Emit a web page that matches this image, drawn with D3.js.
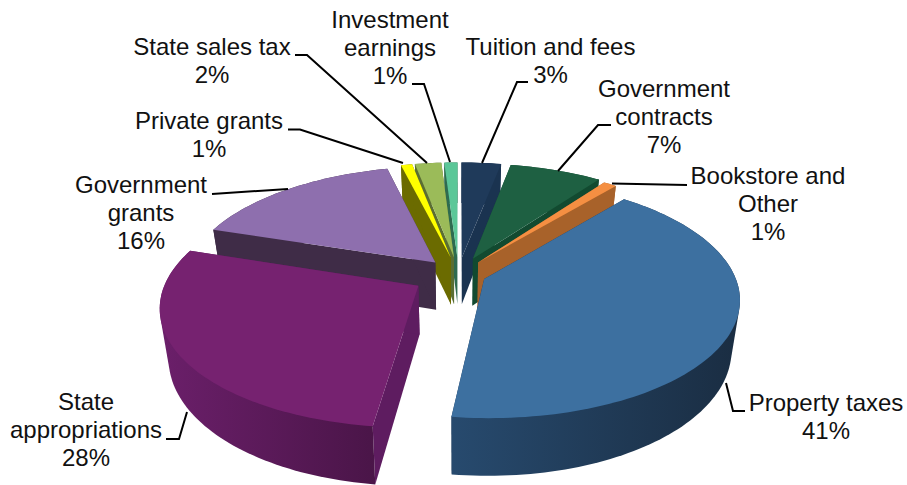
<!DOCTYPE html>
<html><head><meta charset="utf-8">
<script src="https://cdnjs.cloudflare.com/ajax/libs/d3/7.8.5/d3.min.js"></script>
<style>html,body{margin:0;padding:0;background:#fff}svg{display:block}text{font-family:"Liberation Sans",Arial,sans-serif;font-size:24px;fill:#111}</style>
</head><body><svg id="c" width="907" height="485"></svg>
<script>
const categories=["Tuition and fees","Government contracts","Bookstore and Other","Property taxes","State appropriations","Government grants","Private grants","State sales tax","Investment earnings"];
const values=[3,7,1,41,28,16.15,0.85,2,1];
const percentLabels=["3%","7%","1%","41%","28%","16%","1%","2%","1%"];
const explosion=[0.148,0.148,0.13,0.111,0.187,0.138,0.148,0.148,0.148];
const faceColors=["#1F3A5A","#1E6042","#F58F42","#3D70A0","#762270","#8E6FAE","#FFFF00","#9BBB59","#5BC798"];
const radialWallColors=["#1A3350","#124A30","#A8622A","#1C3350","#5E1C60","#3F2C47","#6B6B00","#5A6E33","#2E6B50"];
const outerWallFrom=["#1A3350","#124A30","#A8622A","#274A6E","#6B1F6A","#3F2C47","#6B6B00","#5A6E33","#2E6B50"];
const outerWallTo=["#1A3350","#124A30","#A8622A","#1A2D42","#4A1548","#3F2C47","#6B6B00","#5A6E33","#2E6B50"];
const paintOrder=[8,7,6,0,1,2,5,3,4];
const labelLines=[["Tuition and fees","3%"],["Government","contracts","7%"],["Bookstore and","Other","1%"],["Property taxes","41%"],["State","appropriations","28%"],["Government","grants","16%"],["Private grants","1%"],["State sales tax","2%"],["Investment","earnings","1%"]];
const labelCenters=[[550.5,61],[664,117],[768,204],[826,417],[86,430],[141,213],[209,135],[212,60.5],[390,48]];
const leaders=[[[482,163],[517,82],[528,82]],[[558,171],[598,125],[611,125]],[[612,183.5],[687,185]],[[726,383],[733,411],[745,411]],[[187,412],[179,439],[166,439]],[[288,189],[212,194]],[[403,163],[300,129.5],[288,129.5]],[[427,163],[307,55],[295,55]],[[450,162],[424,84],[412,84]]];

const W=907,H=485,cx=458.5,cy=274,R=250,K=115,D=48,p=0.16,bottomShrink=0.97;
const svg=d3.select("#c"),defs=svg.append("defs");
const pie=d3.pie().sort(null).value(d=>d)(values);
function project(i,r,th,w){
  const a=pie[i],mid=(a.startAngle+a.endAngle)/2,e=explosion[i];
  const u=r*Math.sin(th)+e*Math.sin(mid),v=-r*Math.cos(th)-e*Math.cos(mid);
  const s=1/(1-p*v);
  return [cx+R*u*s*(w?bottomShrink:1),cy+K*v*s+D*w*s];
}
const line=d3.line();
function arcPts(i,w){
  const a=pie[i],n=Math.max(4,Math.ceil((a.endAngle-a.startAngle)*40));
  return d3.range(n+1).map(k=>project(i,1,a.startAngle+(a.endAngle-a.startAngle)*k/n,w));
}
paintOrder.forEach(i=>{
  const a=pie[i],g=svg.append("g");
  const gid="w"+i;
  const lg=defs.append("linearGradient").attr("id",gid);
  lg.append("stop").attr("offset","0").attr("stop-color",outerWallFrom[i]);
  lg.append("stop").attr("offset","1").attr("stop-color",outerWallTo[i]);
  [a.startAngle,a.endAngle].forEach(th=>{
    const pts=[project(i,0,0,0),project(i,1,th,0),project(i,1,th,1),project(i,0,0,1)];
    g.append("path").attr("d",line(pts)+"Z").attr("fill",radialWallColors[i]);
  });
  const hull=d3.polygonHull(arcPts(i,0).concat(arcPts(i,1)));
  g.append("path").attr("d",line(hull)+"Z").attr("fill",`url(#${gid})`);
  g.append("path").attr("d",line([project(i,0,0,0)].concat(arcPts(i,0)))+"Z").attr("fill",faceColors[i]);
});
leaders.forEach(l=>svg.append("path").attr("d",line(l)).attr("fill","none").attr("stroke","#000").attr("stroke-width",2));
labelLines.forEach((ls,i)=>{
  const t=svg.append("text").attr("text-anchor","middle").attr("x",labelCenters[i][0]).attr("y",labelCenters[i][1]-(ls.length-1)*14+8);
  ls.forEach((s,k)=>t.append("tspan").attr("x",labelCenters[i][0]).attr("dy",k?28:0).text(s));
});
</script></body></html>
